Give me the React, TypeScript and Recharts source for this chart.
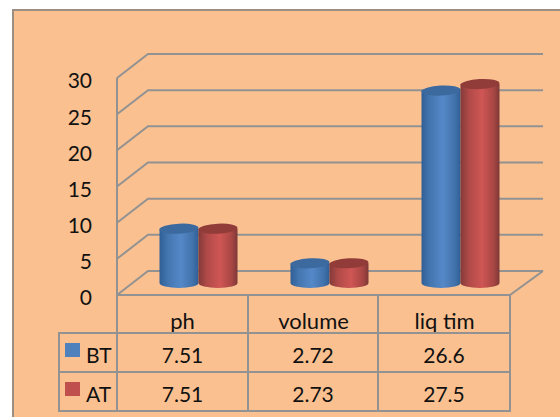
import { BarChart, Bar, XAxis, YAxis, CartesianGrid } from 'recharts';

const categories = ['ph', 'volume', 'liq tim'];
const btValues = [7.51, 2.72, 26.6];
const atValues = [7.51, 2.73, 27.5];
const yTicks = [0, 5, 10, 15, 20, 25, 30];

const chartData = categories.map((name, i) => ({ name, BT: btValues[i], AT: atValues[i] }));

const LINE = '#929292';
const FONT = 'Lato, sans-serif';

// depth of the fake 3d box
const WALL_DX = 31;
const WALL_DY = 24;
const BAR_DX = 15.5;
const BAR_DY = 12;

const rows = [
  { label: 'BT', color: '#4F81BD', values: btValues },
  { label: 'AT', color: '#C0504D', values: atValues },
];

const wallLine = (props: any) => {
  const { x1, x2, y1 } = props;
  return (
    <g key={props.key ?? y1}>
      <polyline
        points={`${x1},${y1} ${x1 + WALL_DX},${y1 - WALL_DY} ${x2 + WALL_DX + 2},${y1 - WALL_DY}`}
        fill="none"
        stroke={LINE}
        strokeWidth={2}
      />
      {y1 > 290 && (
        <line x1={x2} y1={y1} x2={x2 + WALL_DX + 2} y2={y1 - WALL_DY} stroke={LINE} strokeWidth={2} />
      )}
    </g>
  );
};

const Cylinder = (props: any) => {
  const { x, y, width, height, gradient, top } = props;
  const bx = x + BAR_DX;
  const by = y - BAR_DY;
  const rx = width / 2;
  const ry = 5;
  const body = `M${bx} ${by} L${bx} ${by + height} A${rx} ${ry} 0 0 0 ${bx + width} ${by + height} L${bx + width} ${by} Z`;
  return (
    <g>
      <path d={body} fill={`url(#${gradient})`} />
      <ellipse
        cx={bx + rx}
        cy={by}
        rx={rx}
        ry={ry}
        fill={top}
        transform={`rotate(-3 ${bx + rx} ${by})`}
      />
    </g>
  );
};

const cellStyle = {
  border: `2px solid ${LINE}`,
  padding: 0,
  textAlign: 'center' as const,
  fontFamily: FONT,
  fontSize: 21,
  color: '#111',
};

export default function App() {
  return (
    <div style={{ position: 'absolute', left: 0, top: 0, width: 560, height: 417, background: '#fff', overflow: 'hidden' }}>
      <div
        style={{
          position: 'absolute',
          left: 12,
          top: 9,
          width: 560,
          height: 420,
          background: '#FAC090',
          border: '2px solid #9b8f84',
        }}
      />
      <div style={{ position: 'absolute', left: 0, top: 0 }}>
        <BarChart
          width={560}
          height={417}
          data={chartData}
          barSize={39}
          barGap={0}
          margin={{ top: 78, right: 50, bottom: 92, left: 0 }}
        >
          <defs>
            <linearGradient id="blueCyl" x1="0" y1="0" x2="1" y2="0">
              <stop offset="0%" stopColor="#2f5f95" />
              <stop offset="22%" stopColor="#4476b0" />
              <stop offset="55%" stopColor="#5588c8" />
              <stop offset="85%" stopColor="#4172ab" />
              <stop offset="100%" stopColor="#2f5f95" />
            </linearGradient>
            <linearGradient id="redCyl" x1="0" y1="0" x2="1" y2="0">
              <stop offset="0%" stopColor="#843a38" />
              <stop offset="22%" stopColor="#b04a48" />
              <stop offset="55%" stopColor="#cf5654" />
              <stop offset="85%" stopColor="#a84644" />
              <stop offset="100%" stopColor="#7e3836" />
            </linearGradient>
          </defs>
          <CartesianGrid vertical={false} horizontal={wallLine} stroke={LINE} />
          <XAxis
            dataKey="name"
            axisLine={{ stroke: LINE, strokeWidth: 2 }}
            tickLine={false}
            tickSize={0}
            tickMargin={18}
            tick={{ fontFamily: FONT, fontSize: 22, fill: '#111' }}
            interval={0}
          />
          <YAxis
            width={117}
            domain={[0, 30]}
            ticks={yTicks}
            interval={0}
            axisLine={{ stroke: LINE, strokeWidth: 2 }}
            tickLine={false}
            tickSize={0}
            tickMargin={25}
            tick={{ fontFamily: FONT, fontSize: 21, fill: '#111', dy: 3 }}
          />
          <Bar dataKey="BT" isAnimationActive={false} shape={<Cylinder gradient="blueCyl" top="#3c6a9e" />} />
          <Bar dataKey="AT" isAnimationActive={false} shape={<Cylinder gradient="redCyl" top="#923c3a" />} />
        </BarChart>
      </div>
      <table
        style={{
          position: 'absolute',
          left: 58,
          top: 294,
          borderCollapse: 'collapse',
          tableLayout: 'fixed',
          width: 452,
        }}
      >
        <colgroup>
          <col style={{ width: 58 }} />
          <col style={{ width: 131 }} />
          <col style={{ width: 130 }} />
          <col style={{ width: 132 }} />
        </colgroup>
        <tbody>
          <tr style={{ height: 39 }}>
            <td style={{ padding: 0, borderRight: `2px solid ${LINE}` }} />
            {categories.map((c) => (
              <td key={c} style={{ ...cellStyle, borderTop: 'none' }} />
            ))}
          </tr>
          {rows.map((row) => (
            <tr key={row.label} style={{ height: 39 }}>
              <td style={cellStyle}>
                <div style={{ display: 'flex', alignItems: 'center', paddingLeft: 5, gap: 6 }}>
                  <span style={{ display: 'inline-block', width: 15, height: 14, background: row.color, marginTop: -6 }} />
                  <span style={{ paddingTop: 3 }}>{row.label}</span>
                </div>
              </td>
              {row.values.map((v, i) => (
                <td key={categories[i]} style={{ ...cellStyle, paddingTop: 3 }}>
                  {v}
                </td>
              ))}
            </tr>
          ))}
        </tbody>
      </table>
    </div>
  );
}
